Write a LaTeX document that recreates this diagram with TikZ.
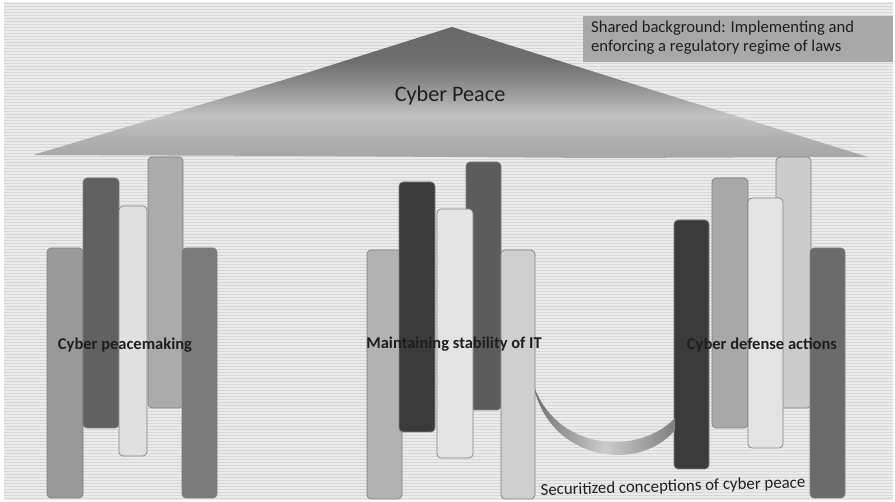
\documentclass[tikz,border=0pt]{standalone}
\usepackage{fontspec}
\setmainfont{Carlito}
\usetikzlibrary{calc}
\definecolor{bgA}{HTML}{EBEBEB}
\definecolor{bgB}{HTML}{D6D6D6}
\definecolor{boxfill}{HTML}{A8A8A8}
\definecolor{txt}{HTML}{1E1E1E}
\definecolor{pk1}{HTML}{686868}
\definecolor{pk2}{HTML}{6E6E6E}
\definecolor{pk3}{HTML}{8E8E8E}
\definecolor{pk4}{HTML}{C2C2C2}
\definecolor{pk5}{HTML}{B2B2B2}
\definecolor{pk6}{HTML}{A6A6A6}
\pgfdeclareverticalshading{peakshade}{100bp}{color(0bp)=(pk6); color(25bp)=(pk6); color(33.5bp)=(pk5); color(41bp)=(pk4); color(53bp)=(pk3); color(62bp)=(pk2); color(75bp)=(pk1); color(100bp)=(pk1)}
\tikzset{
  bar/.style={draw=black!50, line width=0.7pt, rounded corners=4pt},
  barlabel/.style={font=\fontsize{16.5}{19}\selectfont\bfseries, text=txt, inner sep=0pt},
}
\begin{document}
\begin{tikzpicture}[x=1pt,y=-1pt]
\useasboundingbox (0,0) rectangle (895,502);
% background
\fill[white] (0,0) rectangle (895,502);
\fill[bgA] (4,2) rectangle (893,500);
\foreach \yy in {3.5,6.5,...,499} \draw[bgB, line width=1pt] (4,\yy) -- (893,\yy);

% shared background box
\fill[boxfill] (583,16) rectangle (893,62);
\node[anchor=north west, align=left, text=txt, inner sep=0pt,
      font=\fontsize{16.6}{18.5}\selectfont] (shared) at (591,21)
  {Shared background: Implementing and\\enforcing a regulatory regime of laws};

% Cyber Peace mountain
\path[shading=peakshade] (33,155) -- (300,75) -- (452,27) -- (620,80) -- (868,157) -- (600,158) -- (300,156) -- cycle;
\node[text=txt, font=\fontsize{22.2}{26}\selectfont, inner sep=0pt] (peace) at (450,96) {Cyber Peace};

% group 1: Cyber peacemaking
\draw[bar, fill=black!40] (47,248) rectangle (83,498);
\draw[bar, fill=black!62] (83,178) rectangle (119,428);
\draw[bar, fill=black!33] (148,157) rectangle (183,408);
\draw[bar, fill=black!12] (119,206) rectangle (147,456);
\draw[bar, fill=black!52] (182,248) rectangle (217,498);
\node[barlabel] (g1) at (125,345) {Cyber peacemaking};

% group 2: Maintaining stability of IT
\draw[bar, fill=black!30] (367,250) rectangle (402,499);
\draw[bar, fill=black!77] (399,182) rectangle (435,432);
\draw[bar, fill=black!64] (466,162) rectangle (501,410);
\draw[bar, fill=black!11] (437,209) rectangle (473,458);
\draw[bar, fill=black!19] (501,250) rectangle (535,499);
\node[barlabel] (g2) at (454,344) {Maintaining stability of IT};

% group 3: Cyber defense actions
\draw[bar, fill=black!77] (674,220) rectangle (709,469);
\draw[bar, fill=black!34] (712,178) rectangle (748,428);
\draw[bar, fill=black!20] (776,157) rectangle (811,408);
\draw[bar, fill=black!11] (748,198) rectangle (783,448);
\draw[bar, fill=black!58] (810,248) rectangle (845,498);
\node[barlabel] (g3) at (762,345) {Cyber defense actions};

% connecting crescent
\path[left color=black!55, right color=black!50, middle color=black!20]
  (535,392) .. controls (555,462) and (640,472) .. (675,430)
  -- (675,418) .. controls (640,455) and (560,452) .. (535,389) -- cycle;

\node[text=txt, font=\fontsize{16.8}{19}\selectfont, inner sep=0pt, rotate=1.7] (sec) at (673,487)
  {Securitized conceptions of cyber peace};
\end{tikzpicture}
\end{document}
